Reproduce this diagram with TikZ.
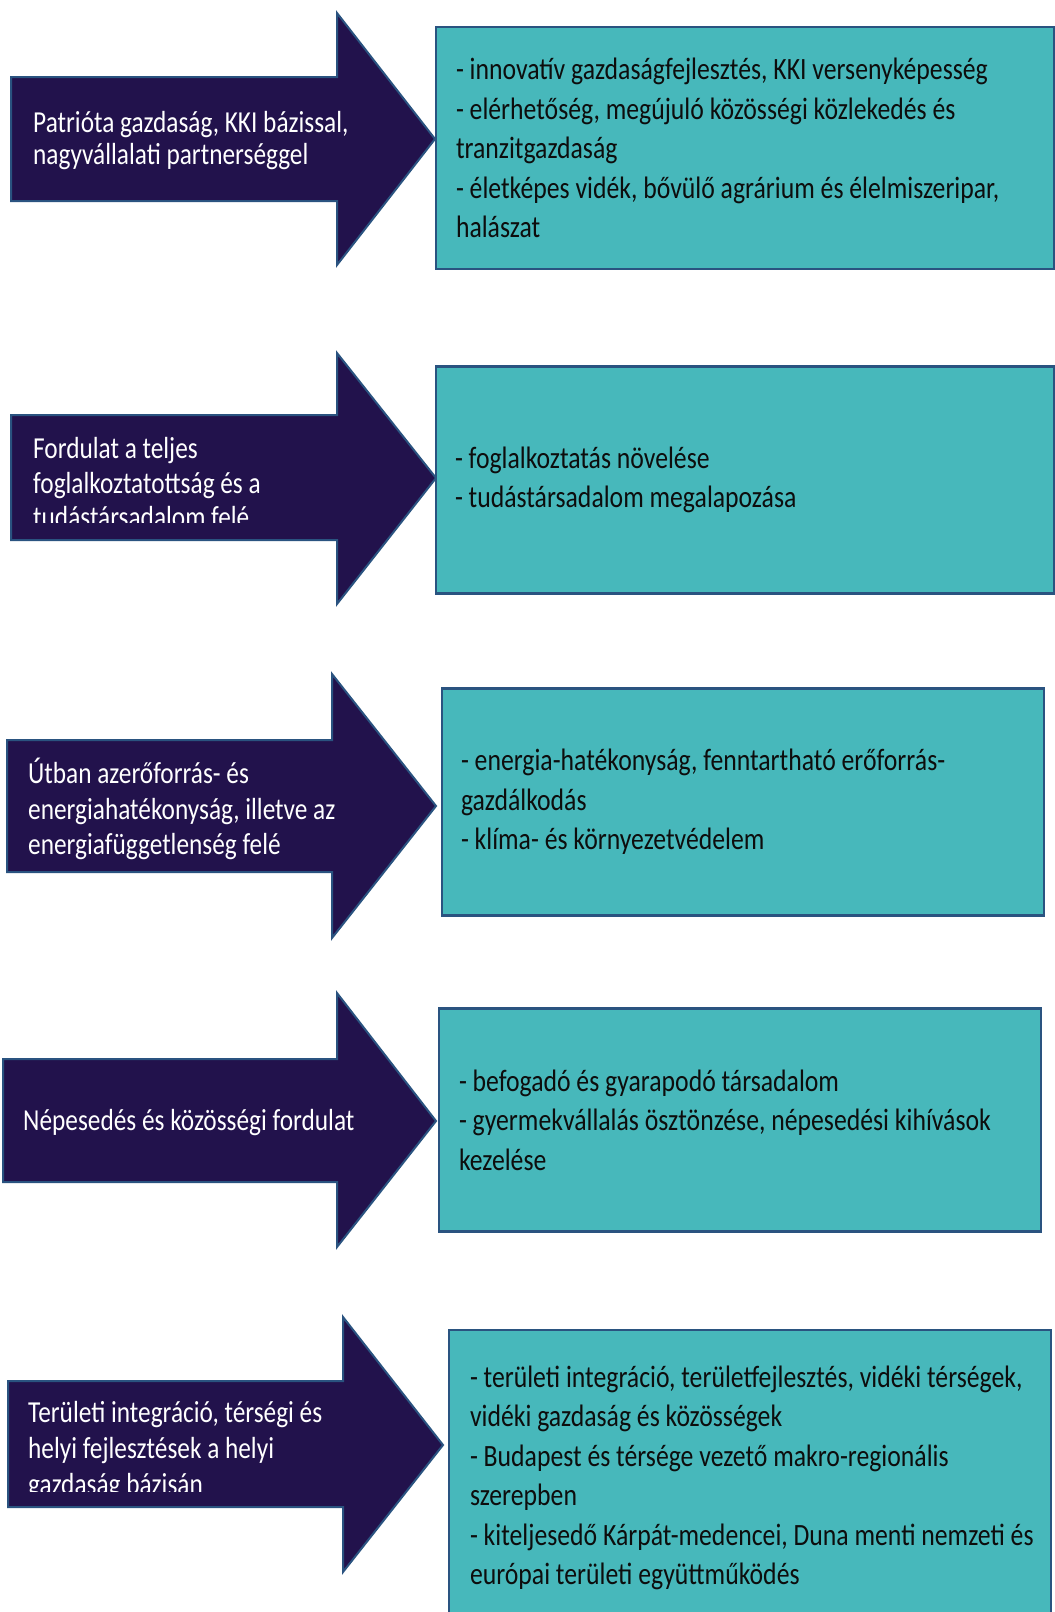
\documentclass[tikz,border=0pt]{standalone}
\usepackage{fontspec}
\setmainfont{Carlito}
\newfontfamily\narrowfont[FakeStretch=0.83]{Carlito}
\usetikzlibrary{positioning}
\definecolor{arrownavy}{RGB}{34,18,76}
\definecolor{goalteal}{RGB}{71,184,187}
\definecolor{rimblue}{RGB}{42,83,128}

\begin{document}
\begin{tikzpicture}[x=1pt,y=-1pt,
    arrowshape/.style={fill=arrownavy,draw=rimblue,line width=2pt,line join=miter},
    goalbox/.style={fill=goalteal,draw=rimblue,line width=2.4pt,inner sep=0pt},
    pillar/.style={anchor=west,align=left,text=white,inner sep=0pt,font=\narrowfont\fontsize{30.5}{35}\selectfont},
    goals/.style={anchor=west,align=left,text=black!95,inner sep=0pt,font=\narrowfont\fontsize{31}{39.5}\selectfont}]
    \useasboundingbox (0,0) rectangle (1055,1612);

    % arrows: shaft left/top/bottom, head x/top/bottom, tip x/y
    \foreach \l/\t/\b/\h/\ht/\hb/\tx/\ty in {11/77/201/337/13/265/435/139,
        11/415/540/337/353/604/436/478,
        7/740/872/332/674/938/436/806,
        3/1059/1182/337/993/1247/436/1121,
        8/1381/1507/343/1317/1572/443/1445} {
        \draw[arrowshape] (\l,\t) -- (\h,\t) -- (\h,\ht) -- (\tx,\ty)
            -- (\h,\hb) -- (\h,\b) -- (\l,\b) -- cycle;
    }

    % goal boxes
    \node[goalbox,minimum width=618,minimum height=242] (g1) at (745,148) {};
    \node[goalbox,minimum width=618,minimum height=227] (g2) at (745,480) {};
    \node[goalbox,minimum width=602,minimum height=227] (g3) at (743,802) {};
    \node[goalbox,minimum width=602,minimum height=223] (g4) at (740,1120) {};
    \node[goalbox,minimum width=602,minimum height=296] (g5) at (750,1478) {};

    % arrow texts
    \node[pillar,font=\narrowfont\fontsize{30.5}{32}\selectfont] (p1) at (33,141)
        {Patrióta gazdaság, KKI bázissal,\\nagyvállalati partnerséggel};
    \begin{scope}
        \clip (0,400) rectangle (440,522);
        \node[pillar,font=\narrowfont\fontsize{30.5}{34.5}\selectfont] (p2) at (33,483)
            {Fordulat a teljes\\foglalkoztatottság és a\\tudástársadalom felé};
    \end{scope}
    \node[pillar,font=\narrowfont\fontsize{30.5}{35.5}\selectfont] (p3) at (28,809)
        {Útban azerőforrás- és\\energiahatékonyság, illetve az\\energiafüggetlenség felé};
    \node[pillar] (p4) at (23,1123) {Népesedés és közösségi fordulat};
    \begin{scope}
        \clip (0,1370) rectangle (440,1491);
        \node[pillar,font=\narrowfont\fontsize{30.5}{36}\selectfont] (p5) at (28,1451)
            {Területi integráció, térségi és\\helyi fejlesztések a helyi\\gazdaság bázisán};
    \end{scope}

    % box texts
    \node[goals,right=21pt of g1.west] (l1)
        {- innovatív gazdaságfejlesztés, KKI versenyképesség\\
         - elérhetőség, megújuló közösségi közlekedés és\\
         tranzitgazdaság\\
         - életképes vidék, bővülő agrárium és élelmiszeripar,\\
         halászat};
    \node[goals,right=20pt of g2.west] (l2)
        {- foglalkoztatás növelése\\- tudástársadalom megalapozása};
    \node[goals,right=20pt of g3.west] (l3)
        {- energia-hatékonyság, fenntartható erőforrás-\\
         gazdálkodás\\
         - klíma- és környezetvédelem};
    \node[goals,right=21pt of g4.west] (l4)
        {- befogadó és gyarapodó társadalom\\
         - gyermekvállalás ösztönzése, népesedési kihívások\\
         kezelése};
    \node[goals,right=22pt of g5.west] (l5)
        {- területi integráció, területfejlesztés, vidéki térségek,\\
         vidéki gazdaság és közösségek\\
         - Budapest és térsége vezető makro-regionális\\
         szerepben\\
         - kiteljesedő Kárpát-medencei, Duna menti nemzeti és\\
         európai területi együttműködés};
\end{tikzpicture}
\end{document}
